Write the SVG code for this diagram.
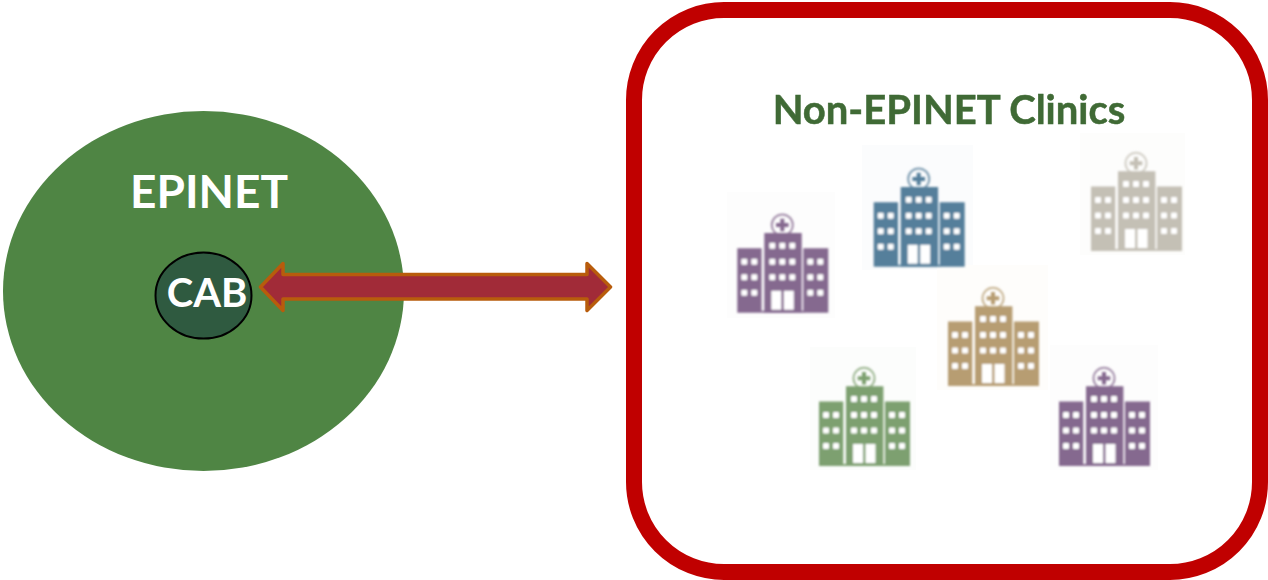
<svg xmlns="http://www.w3.org/2000/svg" xmlns:xlink="http://www.w3.org/1999/xlink" width="1268" height="580" viewBox="0 0 1268 580">
<style>
.t{font-family:Lato,"Liberation Sans",sans-serif;font-weight:700}
.bg{stroke:none}
.win{fill:#fff}
</style>
<defs>
<filter id="soft" x="-10%" y="-10%" width="120%" height="120%"><feGaussianBlur stdDeviation="1"/></filter>
<filter id="softText" x="-5%" y="-20%" width="110%" height="140%"><feGaussianBlur stdDeviation="0.6"/></filter>
<symbol id="hospital" overflow="visible" viewBox="-46 -100 92 100" width="92" height="100">
<path fill="currentColor" d="M-45 -64.500h24.300v64.500h-24.300zM-18 -79.700h37.400v79.700h-37.400zM21 -64.500h25v64.500h-25z"/>
<path fill="currentColor" d="M-21 -2h43v2h-43z"/>
<circle cx="0" cy="-87.700" r="10.500" fill="none" stroke="currentColor" stroke-width="2" stroke-opacity=".75"/>
<path fill="currentColor" d="M-2 -94h4v4.300h4.300v4h-4.300v4.300h-4v-4.300h-4.300v-4h4.300z"/>
<g class="win">
<rect x="-13" y="-70" width="6" height="6" rx="1"/><rect x="-3" y="-70" width="6" height="6" rx="1"/><rect x="7" y="-70" width="6" height="6" rx="1"/>
<rect x="-13" y="-54" width="6" height="6" rx="1"/><rect x="-3" y="-54" width="6" height="6" rx="1"/><rect x="7" y="-54" width="6" height="6" rx="1"/>
<rect x="-13" y="-38.500" width="6" height="6" rx="1"/><rect x="-3" y="-38.500" width="6" height="6" rx="1"/><rect x="7" y="-38.500" width="6" height="6" rx="1"/>
<rect x="-41" y="-54" width="6" height="6" rx="1"/><rect x="-31" y="-54" width="6" height="6" rx="1"/>
<rect x="-41" y="-38.500" width="6" height="6" rx="1"/><rect x="-31" y="-38.500" width="6" height="6" rx="1"/>
<rect x="-41" y="-23" width="6" height="6" rx="1"/><rect x="-31" y="-23" width="6" height="6" rx="1"/>
<rect x="25" y="-54" width="6" height="6" rx="1"/><rect x="35" y="-54" width="6" height="6" rx="1"/>
<rect x="25" y="-38.500" width="6" height="6" rx="1"/><rect x="35" y="-38.500" width="6" height="6" rx="1"/>
<rect x="25" y="-23" width="6" height="6" rx="1"/><rect x="35" y="-23" width="6" height="6" rx="1"/>
<path d="M-11 -22h10v19h-10zM1.500 -22h10v19h-10z"/>
</g>
</symbol>
</defs>

<g id="epinet">
<ellipse cx="203.500" cy="291" rx="200.500" ry="180" fill="#4f8544"/>
<text class="t" x="209" y="208" text-anchor="middle" font-size="46" fill="#fff">EPINET</text>
</g>
<g id="cab">
<ellipse cx="203.500" cy="295.500" rx="48" ry="43" fill="#2f5a40" stroke="#000" stroke-width="2"/>
<text class="t" x="207" y="307" text-anchor="middle" font-size="40" fill="#fff">CAB</text>
</g>

<g id="non-epinet-clinics">
<rect x="634" y="10" width="626" height="562" rx="90" ry="90" fill="#fff" stroke="#c00000" stroke-width="16"/>
<text class="t" x="949" y="124" text-anchor="middle" font-size="40" fill="#3f6a35" stroke="#3f6a35" stroke-width=".5" filter="url(#softText)">Non-EPINET Clinics</text>
</g>

<g id="clinic-backgrounds">
<rect class="bg" x="727" y="192" width="108" height="126" fill="#fdfdfd"/>
<rect class="bg" x="862" y="145" width="111" height="125" fill="#fbfcfd"/>
<rect class="bg" x="1080" y="133" width="105" height="122" fill="#fdfdfc"/>
<rect class="bg" x="937" y="265" width="111" height="125" fill="#fefdfb"/>
<rect class="bg" x="810" y="347" width="106" height="123" fill="#fcfdfc"/>
<rect class="bg" x="1050" y="345" width="108" height="125" fill="#fdfdfd"/>
</g>
<g id="clinic-1" filter="url(#soft)" color="#85698f"><use xlink:href="#hospital" href="#hospital" x="736.300" y="212.700"/></g>
<g id="clinic-2" filter="url(#soft)" color="#557f9b"><use xlink:href="#hospital" href="#hospital" x="872.700" y="166.700"/></g>
<g id="clinic-3" filter="url(#soft)" color="#c4c0b5"><use xlink:href="#hospital" href="#hospital" x="1090" y="151"/></g>
<g id="clinic-4" filter="url(#soft)" color="#b79d72"><use xlink:href="#hospital" href="#hospital" x="947" y="286"/></g>
<g id="clinic-5" filter="url(#soft)" color="#7da06f"><use xlink:href="#hospital" href="#hospital" x="818" y="366"/></g>
<g id="clinic-6" filter="url(#soft)" color="#85698f"><use xlink:href="#hospital" href="#hospital" x="1058" y="366"/></g>

<g id="connectors">
<path d="M260.500 287L283 263.500V274.500H587V263.500L610.500 287L587 310.500V299H283V310.500Z" fill="#a12b38" stroke="#b85c0c" stroke-width="3.500" stroke-linejoin="round"/>
</g>
</svg>
